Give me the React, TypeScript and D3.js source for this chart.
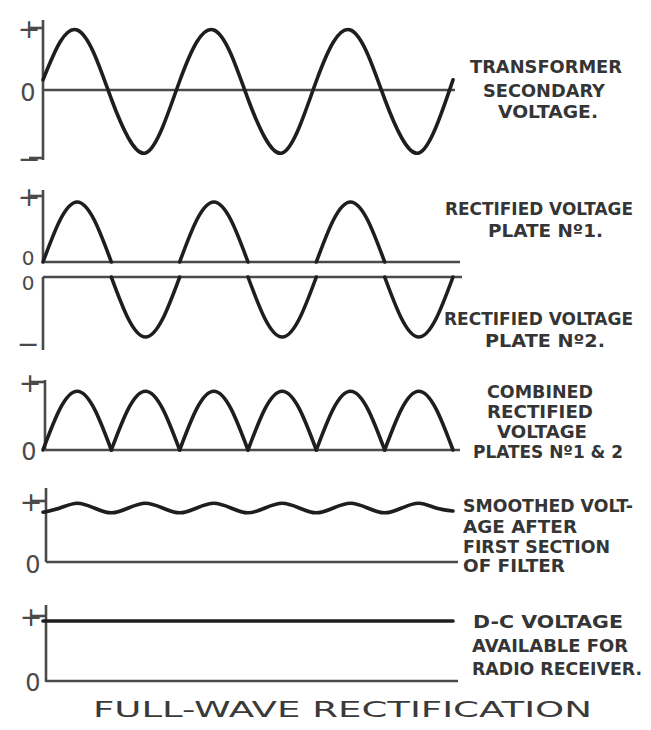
import React, { useEffect, useRef } from 'react';
import * as d3 from 'd3';

// time in half-cycles of the supply, sampled every quarter half-cycle
const sampleTimes = [
  0, 0.25, 0.5, 0.75, 1, 1.25, 1.5, 1.75, 2, 2.25, 2.5, 2.75, 3,
  3.25, 3.5, 3.75, 4, 4.25, 4.5, 4.75, 5, 5.25, 5.5, 5.75, 6,
];

// voltages relative to the peak
const transformerValues = [
  0.17, 0.8, 1.0, 0.6, -0.15, -0.8, -1.05, -0.62, 0.15, 0.8, 1.0, 0.6, -0.15,
  -0.8, -1.05, -0.62, 0.15, 0.8, 1.0, 0.6, -0.15, -0.8, -1.05, -0.62, 0.17,
];
const plateOneValues = [
  0, 0.7, 1.0, 0.7, 0, null, null, null, 0, 0.7, 1.0, 0.7, 0,
  null, null, null, 0, 0.7, 1.0, 0.7, 0, null, null, null, null,
];
const plateTwoValues = [
  null, null, null, null, 0, -0.7, -1.0, -0.7, 0, null, null, null, 0,
  -0.7, -1.0, -0.7, 0, null, null, null, 0, -0.7, -1.0, -0.7, 0,
];
const combinedValues = [
  0, 0.69, 0.98, 0.69, 0, 0.69, 0.98, 0.69, 0, 0.69, 0.98, 0.69, 0,
  0.69, 0.98, 0.69, 0, 0.69, 0.98, 0.69, 0, 0.69, 0.98, 0.69, 0,
];
const smoothedValues = [
  0.83, 0.9, 0.98, 0.9, 0.82, 0.9, 0.98, 0.9, 0.82, 0.9, 0.98, 0.9, 0.82,
  0.9, 0.98, 0.9, 0.82, 0.9, 0.98, 0.9, 0.82, 0.9, 0.98, 0.9, 0.85,
];
const dcTimes = [0, 6];
const dcValues = [1.0, 1.0];

const transformerLabel = ['TRANSFORMER', 'SECONDARY', 'VOLTAGE.'];
const plateOneLabel = ['RECTIFIED VOLTAGE', 'PLATE Nº1.'];
const plateTwoLabel = ['RECTIFIED VOLTAGE', 'PLATE Nº2.'];
const combinedLabel = ['COMBINED', 'RECTIFIED', 'VOLTAGE', 'PLATES Nº1 & 2'];
const smoothedLabel = ['SMOOTHED VOLT-', 'AGE AFTER', 'FIRST SECTION', 'OF FILTER'];
const dcLabel = ['D-C VOLTAGE', 'AVAILABLE FOR', 'RADIO RECEIVER.'];
const chartTitle = 'FULL-WAVE RECTIFICATION';

type Pt = [number, number];

// split a series into arches that run from one zero to the next
function arches(times: number[], values: (number | null)[]): Pt[][] {
  const out: Pt[][] = [];
  let cur: Pt[] | null = null;
  values.forEach((v, i) => {
    if (v == null) {
      cur = null;
      return;
    }
    if (!cur) cur = [[times[i], v]];
    else cur.push([times[i], v]);
    if (v === 0 && cur.length > 1) {
      out.push(cur);
      cur = [[times[i], v]];
    }
  });
  return out;
}

export default function App() {
  const svgRef = useRef<SVGSVGElement>(null);

  useEffect(() => {
    if (!svgRef.current) return;
    const svg = d3.select(svgRef.current);
    svg.selectAll('*').remove();

    const x = d3.scaleLinear().domain([0, 6]).range([43, 453]);
    const unit = 60;

    const panels = [
      {
        axisX: 43, top: 20, bottom: 160, zeroY: 90, zeroEnd: 455,
        plus: [29, 28], zero: [28, 92, 24], minus: [29, 158], minusTick: true,
        label: transformerLabel,
        lines: [[470, 622, 73], [483, 605, 97], [498, 598, 118]],
        series: [{ kind: 'wave', t: sampleTimes, v: transformerValues }],
      },
      {
        axisX: 43, top: 190, bottom: 262, zeroY: 262, zeroEnd: 460,
        plus: [29, 196], zero: [28, 258, 20], minus: null, minusTick: false,
        label: plateOneLabel,
        lines: [[445, 633, 215], [488, 603, 237]],
        series: [{ kind: 'arch', t: sampleTimes, v: plateOneValues }],
      },
      {
        axisX: 43, top: 277, bottom: 350, zeroY: 277, zeroEnd: 462,
        plus: null, zero: [28, 283, 20], minus: [28, 343], minusTick: false,
        label: plateTwoLabel,
        lines: [[444, 633, 325], [485, 605, 347]],
        series: [{ kind: 'arch', t: sampleTimes, v: plateTwoValues }],
      },
      {
        axisX: 45, top: 380, bottom: 450, zeroY: 450, zeroEnd: 460,
        plus: [30, 382], zero: [29, 451, 24], minus: null, minusTick: false,
        label: combinedLabel,
        lines: [[487, 593, 398], [487, 593, 418], [497, 587, 438], [473, 623, 458]],
        series: [{ kind: 'arch', t: sampleTimes, v: combinedValues }],
      },
      {
        axisX: 46, top: 488, bottom: 562, zeroY: 562, zeroEnd: 458,
        plus: [31, 501], zero: [33, 564, 24], minus: null, minusTick: false,
        label: smoothedLabel,
        lines: [[463, 633, 512], [463, 577, 533], [463, 610, 553], [463, 565, 572]],
        series: [{ kind: 'wave', t: sampleTimes, v: smoothedValues }],
      },
      {
        axisX: 46, top: 605, bottom: 682, zeroY: 681, zeroEnd: 458,
        plus: [31, 616], zero: [33, 682, 24], minus: null, minusTick: false,
        label: dcLabel,
        lines: [[473, 623, 628], [472, 628, 652], [472, 642, 675]],
        series: [{ kind: 'wave', t: dcTimes, v: dcValues }],
      },
    ];

    const ink = '#1e1e1e';
    const axisInk = '#4a4a4a';
    const textInk = '#353535';

    panels.forEach((p) => {
      const y = d3.scaleLinear().domain([0, 1]).range([p.zeroY, p.zeroY - unit]);
      const g = svg.append('g');

      // vertical axis
      g.append('line')
        .attr('x1', p.axisX).attr('x2', p.axisX)
        .attr('y1', p.top).attr('y2', p.bottom)
        .attr('stroke', axisInk).attr('stroke-width', 2.6);

      // zero line
      g.append('line')
        .attr('x1', p.axisX).attr('x2', p.zeroEnd)
        .attr('y1', p.zeroY).attr('y2', p.zeroY)
        .attr('stroke', axisInk).attr('stroke-width', 2.6);

      if (p.plus) {
        g.append('line')
          .attr('x1', p.plus[0]).attr('x2', p.axisX)
          .attr('y1', p.plus[1]).attr('y2', p.plus[1])
          .attr('stroke', axisInk).attr('stroke-width', 2.6);
        g.append('text')
          .attr('x', p.plus[0]).attr('y', p.plus[1])
          .attr('text-anchor', 'middle')
          .attr('dominant-baseline', 'central')
          .attr('font-family', 'DejaVu Sans')
          .attr('font-size', 27)
          .attr('fill', axisInk)
          .text('+');
      }
      if (p.minus) {
        if (p.minusTick) {
          g.append('line')
            .attr('x1', p.minus[0]).attr('x2', p.axisX)
            .attr('y1', p.minus[1]).attr('y2', p.minus[1])
            .attr('stroke', axisInk).attr('stroke-width', 2.6);
        }
        g.append('text')
          .attr('x', p.minus[0]).attr('y', p.minus[1])
          .attr('text-anchor', 'middle')
          .attr('dominant-baseline', 'central')
          .attr('font-family', 'DejaVu Sans')
          .attr('font-size', 27)
          .attr('fill', axisInk)
          .text('\u2212');
      }
      const zs = p.zero[2];
      g.append('text')
        .attr('x', p.zero[0]).attr('y', p.zero[1] + zs * 0.365)
        .attr('text-anchor', 'middle')
        .attr('font-family', 'DejaVu Sans')
        .attr('font-size', zs)
        .attr('fill', axisInk)
        .text('0');

      p.series.forEach((s) => {
        const line = d3.line<Pt>()
          .x((d) => x(d[0]))
          .y((d) => y(d[1]))
          .curve(d3.curveNatural);
        const parts: Pt[][] =
          s.kind === 'arch'
            ? arches(s.t, s.v as (number | null)[])
            : [s.t.map((t, i) => [t, s.v[i] as number] as Pt)];
        parts.forEach((part) => {
          g.append('path')
            .attr('d', line(part) || '')
            .attr('fill', 'none')
            .attr('stroke', ink)
            .attr('stroke-width', 3.6)
            .attr('stroke-linejoin', 'round')
            .attr('stroke-linecap', 'round');
        });
      });

      p.label.forEach((txt, i) => {
        const [x0, x1, base] = p.lines[i];
        g.append('text')
          .attr('x', x0).attr('y', base)
          .attr('textLength', x1 - x0)
          .attr('lengthAdjust', 'spacingAndGlyphs')
          .attr('font-family', 'DejaVu Sans')
          .attr('font-weight', 'bold')
          .attr('font-size', 17)
          .attr('fill', textInk)
          .text(txt);
      });
    });

    svg.append('text')
      .attr('x', 93).attr('y', 717)
      .attr('textLength', 499)
      .attr('lengthAdjust', 'spacingAndGlyphs')
      .attr('font-family', 'DejaVu Sans')
      .attr('font-size', 22)
      .attr('fill', '#3a3a3a')
      .text(chartTitle);
  }, []);

  return (
    <div style={{ position: 'absolute', left: 0, top: 0 }}>
      <svg ref={svgRef} width={651} height={730} style={{ display: 'block', background: '#fff' }} />
    </div>
  );
}
